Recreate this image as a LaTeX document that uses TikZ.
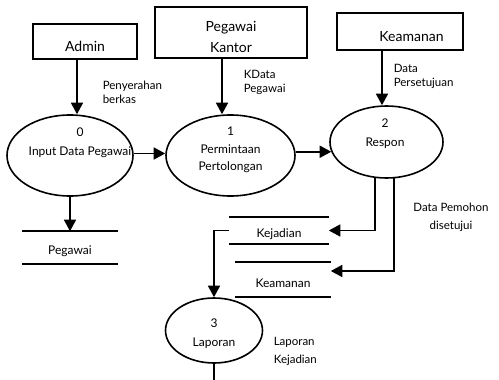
\documentclass[tikz,border=0pt]{standalone}
\usepackage{fontspec}
\setmainfont{Lato}
\usetikzlibrary{arrows.meta, shapes, positioning}

\tikzset{
  entity/.style={draw, rectangle, inner sep=0pt},
  etext/.style={align=center, font=\fontsize{14}{21}\selectfont},
  process/.style={draw, ellipse, inner sep=0pt},
  store/.style={inner sep=0pt, label={[yshift=-4, font=\fontsize{12}{14}\selectfont]center:#1},
    append after command={(\tikzlastnode.north west) edge (\tikzlastnode.north east)
      (\tikzlastnode.south west) edge (\tikzlastnode.south east)}},
  flow/.style={-{Triangle[length=11.5pt,width=12pt]}},
  lbl/.style={align=left, anchor=west, inner sep=0pt, font=\fontsize{11.5}{14}\selectfont}
}

\begin{document}
\begin{tikzpicture}[x=1pt, y=-1pt, line width=1.6pt, font=\fontsize{12}{19}\selectfont]
  \useasboundingbox (0,0) rectangle (499,380);

  % external entities
  \node[entity, minimum width=104, minimum height=35,
        label={[etext, yshift=-5]center:Admin}] (admin) at (85,41.5) {};
  \node[entity, minimum width=152, minimum height=51,
        label={[etext, yshift=-4]center:Pegawai\\Kantor}] (kantor) at (231,32.5) {};
  \node[entity, minimum width=126, minimum height=37,
        label={[etext, xshift=11.5, yshift=-5.5]center:Keamanan}] (keamanan) at (400,31.5) {};

  % processes
  \node[process, minimum width=126, minimum height=81,
        label={[align=center, xshift=10, yshift=12.5]center:0\\Input Data Pegawai}] (p_0) at (70,155.5) {};
  \node[process, minimum width=129, minimum height=81,
        label={[align=center, yshift=5.5, font=\fontsize{12}{17.5}\selectfont]center:1\\Permintaan\\Pertolongan}] (p_1) at (230.5,155.5) {};
  \node[process, minimum width=113, minimum height=72,
        label={[align=center, xshift=-1.5, yshift=8.5]center:2\\Respon}] (p_2) at (386.5,142) {};
  \node[process, minimum width=97, minimum height=65,
        label={[align=center, yshift=-3]center:3\\Laporan}] (p_3) at (214,330.5) {};

  % data stores
  \node[store=Pegawai, minimum width=94, minimum height=31] (d_1) at (70,247.5) {};
  \node[store=Kejadian, minimum width=98, minimum height=25] (d_2) at (279,230.5) {};
  \node[store=Keamanan, minimum width=94, minimum height=33] (d_3) at (283,279.5) {};

  \coordinate (out) at (214,392);

  % flows
  \draw[flow] ([xshift=-8]admin.south) -- ([xshift=7]p_0.north);
  \draw[flow] ([xshift=-9]kantor.south) -- ([xshift=-8.5]p_1.north);
  \draw[flow] ([xshift=-18]keamanan.south) -- ([xshift=-4.5]p_2.north);
  \draw[flow] ([yshift=2]p_0.east) -- ([yshift=2]p_1.west);
  \draw[flow] (p_1.east |- p_2.190) -- (p_2.190);
  \draw[flow] (p_0.south) -- (d_1.north);
  \draw[flow] ([xshift=-11.5,yshift=2]p_2.south) |- (d_2.east);
  \draw[flow] ([xshift=7.5,yshift=2]p_2.south) |- ([yshift=8.5]d_3.east);
  \draw[flow] (d_2.west) -| (p_3.north);
  \draw[flow] (p_3.south) -- (out);

  % flow labels
  \node[lbl] (l_1) at (102,92) {Penyerahan\\berkas};
  \node[lbl] (l_2) at (243,82) {KData\\Pegawai};
  \node[lbl] (l_3) at (393,76.5) {Data\\Persetujuan};
  \node[lbl, anchor=center, align=center] (l_4) at (451,217.5) {Data Pemohon\\[4pt]disetujui};
  \node[lbl] (l_5) at (273,351.5) {Laporan\\[4pt]Kejadian};
\end{tikzpicture}
\end{document}
